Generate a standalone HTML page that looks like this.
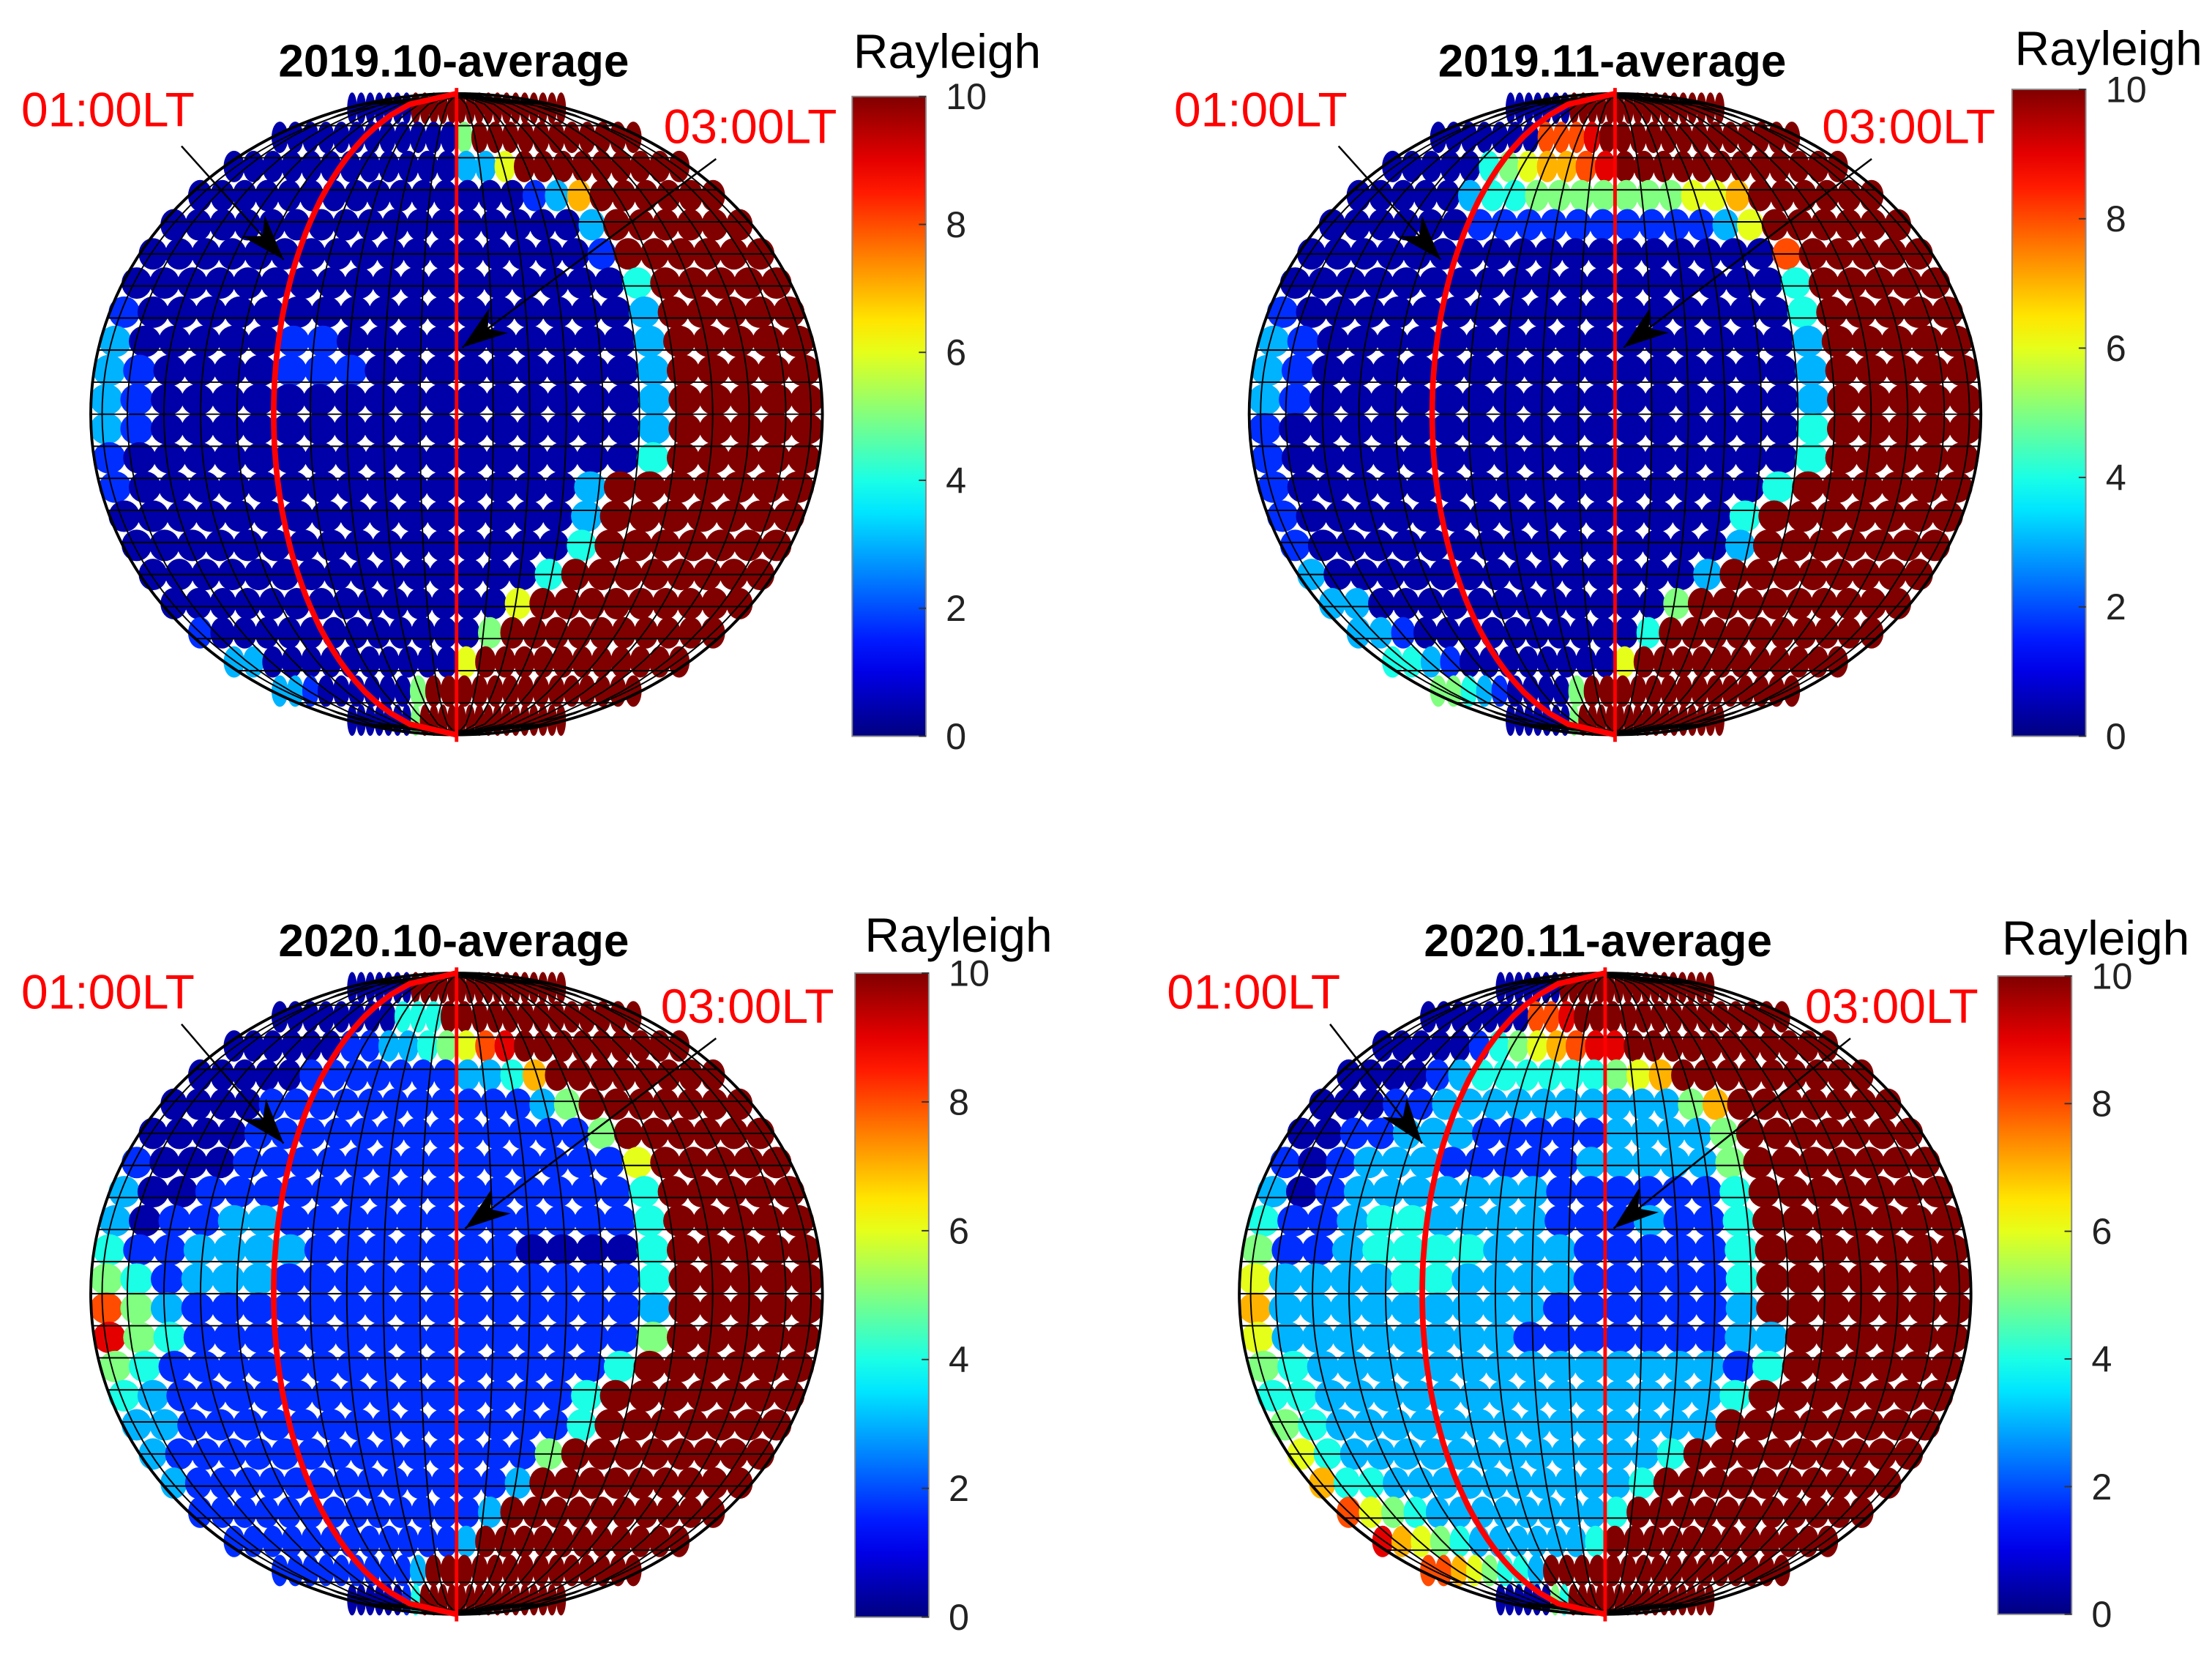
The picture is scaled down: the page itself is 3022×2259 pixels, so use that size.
<!DOCTYPE html>
<html><head><meta charset="utf-8"><title>Rayleigh averages</title>
<style>
html,body{margin:0;padding:0;background:#fff;}
svg{display:block;}
text{font-family:"Liberation Sans",sans-serif;}
</style></head>
<body>
<svg id="fig" xmlns="http://www.w3.org/2000/svg" width="3022" height="2259" viewBox="0 0 1560 1166" preserveAspectRatio="none">
<rect x="0" y="0" width="1560" height="1166" fill="#fff"/>
</svg>
<script>
// Data: each row string = values along one latitude band (0-9, A=10)
const panelTitles = ["2019.10-average","2019.11-average","2020.10-average","2020.11-average"];
const colorTicks = [0,2,4,6,8,10];
const colorTickLabels = ["0","2","4","6","8","10"];
const vmin = 0, vmax = 10;
const rows2019_10 = [
"1111111AAAAAAAAAAAAAAAAA",
"1111111111115AAAAAAAAAAA",
"111111111111336AAAAAAAAA",
"111111111111111237AAAAAA",
"111111111111111113AAAAAA",
"111111111111111112AAAAAA",
"1111111111111111114AAAAA",
"2111111111111111113AAAAA",
"3111112211111111113AAAAA",
"3211112221111111113AAAAA",
"3211111111111111113AAAAA",
"3211111111111111113AAAAA",
"2111111111111111114AAAAA",
"21111111111111113AAAAAAA",
"11111111111111113AAAAAAA",
"11111111111111114AAAAAAA",
"1111111111111114AAAAAAAA",
"111111111111116AAAAAAAAA",
"21111111111115AAAAAAAAAA",
"3311111111116AAAAAAAAAAA",
"3321111115AAAAAAAAAAAAAA",
"11111115AAAAAAAAAAAAAAAA"];
const rows2019_11 = [
"1111111AAAAAAAAAAAAAAAAA",
"11111118889AAAAAAAAAAAAA",
"111114567789AAAAAAAAAAAA",
"111113445555555667AAAAAA",
"111111222222222236AAAAAA",
"1111111111111111118AAAAA",
"1111111111111111114AAAAA",
"2111111111111111114AAAAA",
"3211111111111111113AAAAA",
"3211111111111111113AAAAA",
"3211111111111111113AAAAA",
"2111111111111111114AAAAA",
"2111111111111111114AAAAA",
"211111111111111114AAAAAA",
"21111111111111114AAAAAAA",
"21111111111111113AAAAAAA",
"3111111111111113AAAAAAAA",
"331111111111115AAAAAAAAA",
"33211111111114AAAAAAAAAA",
"4432111111116AAAAAAAAAAA",
"5543211115AAAAAAAAAAAAAA",
"11111115AAAAAAAAAAAAAAAA"];
const rows2020_10 = [
"1111111AAAAAAAAAAAAAAAAA",
"11111111444AAAAAAAAAAAAA",
"111111223345689AAAAAAAAA",
"1111122222223347AAAAAAAA",
"11112222222222235AAAAAAA",
"111122222222222225AAAAAA",
"2111222222222222226AAAAA",
"3112222222222222224AAAAA",
"3122332222222222224AAAAA",
"4223333222222211114AAAAA",
"5423332222222222224AAAAA",
"8532222222222222223AAAAA",
"9542222222222222225AAAAA",
"542222222222222224AAAAAA",
"43222222222222224AAAAAAA",
"33222222222222224AAAAAAA",
"3222222222222225AAAAAAAA",
"322222222222223AAAAAAAAA",
"22222222222223AAAAAAAAAA",
"2222222222223AAAAAAAAAAA",
"2222222223AAAAAAAAAAAAAA",
"11111124AAAAAAAAAAAAAAAA"];
const rows2020_11 = [
"1111111AAAAAAAAAAAAAAAAA",
"1111111889AAAAAAAAAAAAAA",
"1111124567899AAAAAAAAAAA",
"111123444444567AAAAAAAAA",
"11122333333333357AAAAAAA",
"11223332222233335AAAAAAA",
"21233322222333335AAAAAAA",
"31233333332222224AAAAAAA",
"42234433332223224AAAAAAA",
"52234444333222224AAAAAAA",
"63333443333222224AAAAAAA",
"73333333332222223AAAAAAA",
"633333333222222233AAAAAA",
"543333333333333324AAAAAA",
"44333333333333334AAAAAAA",
"5433333333333333AAAAAAAA",
"643333333333334AAAAAAAAA",
"74433333333334AAAAAAAAAA",
"8654333333334AAAAAAAAAAA",
"976543333334AAAAAAAAAAAA",
"88765443AAAAAAAAAAAAAAAA",
"11111154AAAAAAAAAAAAAAAA"];
const panelRows = [rows2019_10, rows2019_11, rows2020_10, rows2020_11];

// Layout (not data)
const layout = [
 {cx:322,cy:292,rx:258,ry:226,tx:320,ty:54,cb:[601,68,52,451],ray:[668,48],l1:[15,89],l2:[468,101],a1:[128,103,200,183],a2:[505,112,326,245]},
 {cx:1139,cy:292,rx:258,ry:226,tx:1137,ty:54,cb:[1419,63,52,456],ray:[1487,46],l1:[828,89],l2:[1285,101],a1:[944,103,1016,183],a2:[1320,112,1145,245]},
 {cx:322,cy:912,rx:258,ry:226,tx:320,ty:674,cb:[603,686,52,454],ray:[676,671],l1:[15,711],l2:[466,721],a1:[128,722,200,806],a2:[505,732,328,866]},
 {cx:1132,cy:912,rx:258,ry:226,tx:1127,ty:674,cb:[1409,688,52,450],ray:[1478,673],l1:[823,711],l2:[1273,721],a1:[938,722,1003,806],a2:[1305,732,1138,866]}
];
const NS="http://www.w3.org/2000/svg";
const svg=document.getElementById('fig');
function mk(tag,attrs,parent){const e=document.createElementNS(NS,tag);for(const k in attrs)e.setAttribute(k,attrs[k]);(parent||svg).appendChild(e);return e;}
function cl(x){return Math.max(0,Math.min(1,x));}
function jet(t){const r=cl(1.5-Math.abs(4*t-3)),g=cl(1.5-Math.abs(4*t-2)),b=cl(1.5-Math.abs(4*t-1));return `rgb(${Math.round(r*255)},${Math.round(g*255)},${Math.round(b*255)})`;}
function parseVal(c){return c==='A'?10:(c==='1'?0.4:(c==='2'?1.7:parseInt(c,10)));}
function colorScale(v){return jet((v-vmin)/(vmax-vmin));}

const defs=mk('defs',{});
const grad=mk('linearGradient',{id:'jetgrad',x1:0,y1:1,x2:0,y2:0},defs);
for(let i=0;i<=20;i++){mk('stop',{offset:(i/20),'stop-color':jet(i/20)},grad);}

panelRows.forEach((rows,p)=>{
  const L=layout[p];
  const g=mk('g',{});
  
  
  const nR=rows.length, nC=24;
  const xOf=(u,v)=>L.cx+L.rx*u*Math.sqrt(Math.max(0,1-v*v));
  const yOf=v=>L.cy+L.ry*v;
  const dg=mk('g',{},g);
  
  
  rows.forEach((s,j)=>{
    const v=-1+(j+0.5)*2/nR;
    let str=s; while(str.length<nC) str+=str[str.length-1];
    for(let i=0;i<nC;i++){
      const u=-1+(i+0.5)*2/nC;
      const val=parseVal(str[i]);
      const w=Math.sqrt(1-v*v);
      const e=mk('ellipse',{cx:xOf(u,v),cy:yOf(v),rx:Math.max(2.5,L.rx*w/nC*1.08),ry:L.ry/nR*1.08,fill:colorScale(val)},dg);
      
      
    }
  });
  const gg=mk('g',{stroke:'#000','stroke-width':1,fill:'none'},g);
  
  
  for(let k=-10;k<=10;k++){
    const u=k/10;let d='';
    for(let m=0;m<=60;m++){const v=-1+m*2/60;d+=(m?'L':'M')+xOf(u,v).toFixed(1)+' '+yOf(v).toFixed(1);}
    mk('path',{d},gg);
  }
  for(let k=-9;k<=9;k++){
    const v=k/10;mk('line',{x1:xOf(-1,v),x2:xOf(1,v),y1:yOf(v),y2:yOf(v)},gg);
  }
  const out=mk('ellipse',{cx:L.cx,cy:L.cy,rx:L.rx,ry:L.ry,fill:'none',stroke:'#000','stroke-width':2},g);
  
  
  const out2=mk('ellipse',{cx:L.cx,cy:L.cy,rx:L.rx-8,ry:L.ry-3,fill:'none',stroke:'#000','stroke-width':1},g);
  
  
  let d='';
  for(let m=0;m<=60;m++){const v=-1+m*2/60;d+=(m?'L':'M')+xOf(-0.5,v).toFixed(1)+' '+yOf(v).toFixed(1);}
  const rm=mk('path',{d,stroke:'#f00','stroke-width':4,fill:'none'},g);
  
  
  const rv=mk('line',{x1:L.cx,x2:L.cx,y1:L.cy-L.ry-4,y2:L.cy+L.ry+5,stroke:'#f00','stroke-width':2.5},g);
  
  
  [L.a1,L.a2].forEach((a,ai)=>{
    const ln=mk('line',{x1:a[0],y1:a[1],x2:a[2],y2:a[3],stroke:'#000','stroke-width':1.3},g);
    
    
    const ang=Math.atan2(a[3]-a[1],a[2]-a[0]);const len=32,hw=11;
    const bx=a[2]-len*Math.cos(ang),by=a[3]-len*Math.sin(ang);
    const px=-Math.sin(ang)*hw,py=Math.cos(ang)*hw;
    const hd=mk('polygon',{points:`${a[2]},${a[3]} ${bx+px},${by+py} ${bx+len*0.3*Math.cos(ang)},${by+len*0.3*Math.sin(ang)} ${bx-px},${by-py}`,fill:'#000'},g);
    
    
  });
  const t1=mk('text',{x:L.l1[0],y:L.l1[1],fill:'#f00','font-size':34},g);t1.textContent='01:00LT';
  
  
  const t2=mk('text',{x:L.l2[0],y:L.l2[1],fill:'#f00','font-size':34},g);t2.textContent='03:00LT';
  
  
  const tt=mk('text',{x:L.tx,y:L.ty,'text-anchor':'middle','font-weight':'bold','font-size':32},g);tt.textContent=panelTitles[p];
  
  
  const [bx,by,bw,bh]=L.cb;
  const cb=mk('rect',{x:bx,y:by,width:bw,height:bh,fill:'url(#jetgrad)',stroke:'#888','stroke-width':1},g);
  
  
  const cbY=v=>by+bh-(v-vmin)/(vmax-vmin)*bh;
  colorTicks.forEach((v,k)=>{
    const tk=mk('line',{x1:bx+bw-5,x2:bx+bw,y1:cbY(v),y2:cbY(v),stroke:'#333','stroke-width':1},g);
    
    
    const tl=mk('text',{x:bx+bw+14,y:cbY(v)+9,'font-size':26,fill:'#222'},g);tl.textContent=colorTickLabels[k];
    
    
  });
  const rt=mk('text',{x:L.ray[0],y:L.ray[1],'text-anchor':'middle','font-size':34},g);rt.textContent='Rayleigh';
  
  
});
</script>
</body></html>
